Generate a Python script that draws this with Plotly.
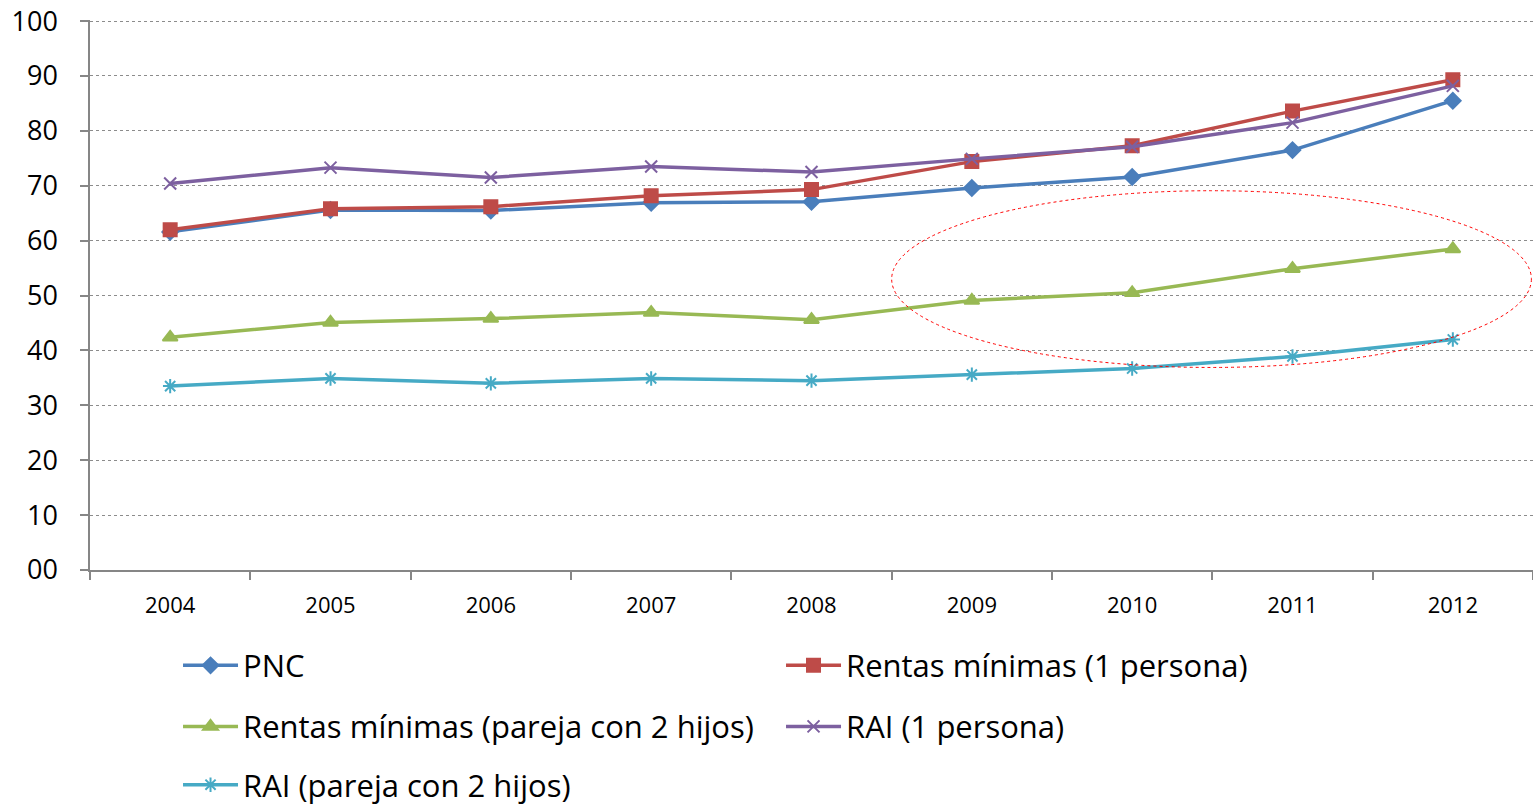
import plotly.graph_objects as go

years = ["2004", "2005", "2006", "2007", "2008", "2009", "2010", "2011", "2012"]
pnc = [61.6, 65.6, 65.5, 66.9, 67.1, 69.6, 71.6, 76.5, 85.5]
rentas_1p = [62.0, 65.8, 66.2, 68.2, 69.3, 74.4, 77.3, 83.6, 89.3]
rentas_pareja = [42.4, 45.1, 45.8, 46.9, 45.6, 49.1, 50.5, 54.9, 58.5]
rai_1p = [70.4, 73.3, 71.5, 73.5, 72.5, 74.9, 77.1, 81.5, 88.2]
rai_pareja = [33.5, 34.9, 34.0, 34.9, 34.5, 35.6, 36.7, 38.9, 42.0]

y_ticks = [0, 10, 20, 30, 40, 50, 60, 70, 80, 90, 100]
y_tick_text = ["00", "10", "20", "30", "40", "50", "60", "70", "80", "90", "100"]

FONT = "Open Sans"

series = [
    ("PNC", pnc, "#4a7ebb", "diamond", 12, "legend"),
    ("Rentas mínimas (1 persona)", rentas_1p, "#be4b48", "square", 13, "legend"),
    ("Rentas mínimas (pareja con 2 hijos)", rentas_pareja, "#98b954", "triangle-up", 13, "legend2"),
    ("RAI (1 persona)", rai_1p, "#7d60a0", "x-thin-open", 12, "legend2"),
    ("RAI (pareja con 2 hijos)", rai_pareja, "#46aac5", "asterisk-open", 12, "legend3"),
]

fig = go.Figure()
for name, vals, color, sym, size, lg in series:
    fig.add_trace(go.Scatter(
        x=years, y=vals, name=name, mode="lines+markers",
        line=dict(color=color, width=3.5),
        marker=dict(symbol=sym, size=size, color=color, line=dict(color=color, width=2)),
        legend=lg,
    ))

# red dotted ellipse annotation
fig.add_shape(type="circle", xref="x", yref="y", x0=4.5, x1=8.49, y0=36.9, y1=69.1,
              line=dict(color="red", width=1, dash="dot"), layer="above")

legend_common = dict(orientation="h", entrywidth=533, entrywidthmode="pixels",
                     font=dict(family=FONT, size=31, color="#000000"),
                     bgcolor="rgba(0,0,0,0)", xanchor="left", yanchor="middle",
                     itemwidth=55, traceorder="normal")

fig.update_layout(
    width=1533, height=808,
    margin=dict(l=90, r=0, t=20, b=238, autoexpand=False),
    plot_bgcolor="white", paper_bgcolor="white",
    font=dict(family=FONT, color="#000000"),
    showlegend=True,
    legend=dict(x=0.061, y=-0.174, **legend_common),
    legend2=dict(x=0.061, y=-0.285, **legend_common),
    legend3=dict(x=0.061, y=-0.391, **legend_common),
    xaxis=dict(
        type="category", range=[-0.5, 8.5], automargin=False,
        showline=True, linecolor="#868686", linewidth=1.5,
        ticks="outside", tickson="boundaries", ticklen=8, tickcolor="#868686", tickwidth=1.5,
        showgrid=False, tickfont=dict(family=FONT, size=22), ticklabelstandoff=15,
    ),
    yaxis=dict(
        range=[0, 100.2], tickvals=y_ticks, ticktext=y_tick_text, automargin=False,
        ticklabeloverflow="allow",
        showline=True, linecolor="#868686", linewidth=1.5,
        ticks="outside", ticklen=8, tickcolor="#868686", tickwidth=1.5,
        showgrid=True, gridcolor="#8c8c8c", griddash="dot", gridwidth=1,
        zeroline=False, tickfont=dict(family=FONT, size=27), ticklabelstandoff=17,
    ),
)

fig.write_html("out.html", config={"displayModeBar": False},
               post_script="document.body.style.margin='0';")
